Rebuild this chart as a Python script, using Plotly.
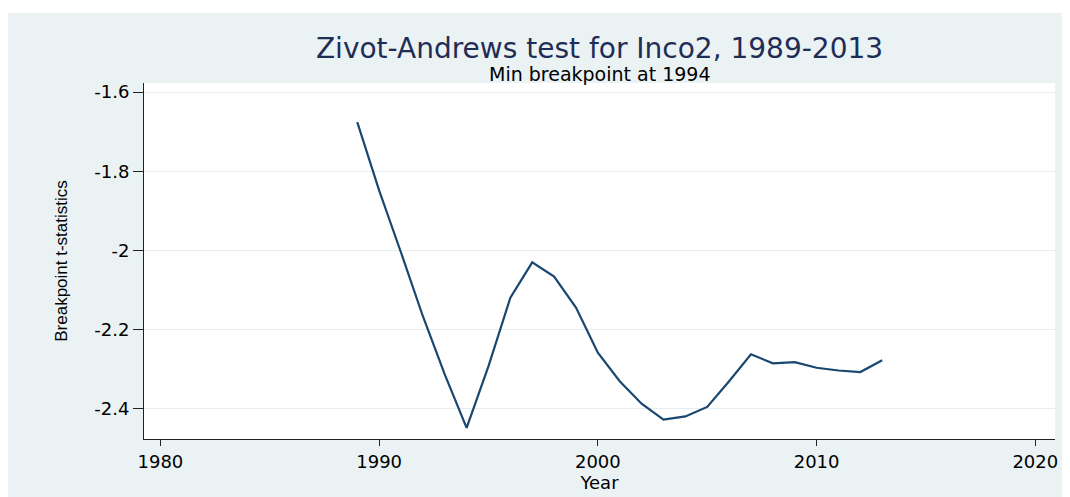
import plotly.graph_objects as go

years = list(range(1989, 2014))
tstats = [-1.676, -1.848, -2.005, -2.166, -2.313, -2.448, -2.292, -2.119,
          -2.030, -2.066, -2.144, -2.258, -2.330, -2.387, -2.427, -2.419,
          -2.395, -2.330, -2.262, -2.285, -2.282, -2.296, -2.303, -2.307, -2.277]

x_ticks = [1980, 1990, 2000, 2010, 2020]
y_ticks = [-2.4, -2.2, -2.0, -1.8, -1.6]
y_tick_text = ["-2.4", "-2.2", "-2", "-1.8", "-1.6"]

title_text = "Zivot-Andrews test for Inco2, 1989-2013"
subtitle_text = "Min breakpoint at 1994"

BG = "#EAF2F3"
FONT = "DejaVu Sans"

# page body has an 8px margin; figure is sized so it ends at the window edge
W, H = 1062, 489

fig = go.Figure()
fig.add_trace(go.Scatter(x=years, y=tstats, mode="lines",
                         line=dict(color="#1a476f", width=2.2),
                         showlegend=False, hoverinfo="x+y"))

fig.update_layout(
    width=W, height=H,
    margin=dict(l=136, r=15, t=75, b=58),
    paper_bgcolor=BG, plot_bgcolor="white",
    title=dict(text=title_text, x=0.5, xref="paper", xanchor="center",
               y=1 - 40 / H, yref="container", yanchor="middle",
               font=dict(family=FONT, size=28, color="#1f2d56")),
    xaxis=dict(range=[1979.25, 2020.9], tickvals=x_ticks,
               ticks="outside", ticklen=6, tickcolor="#222", tickwidth=1,
               showline=True, linecolor="#222", linewidth=1,
               showgrid=False, zeroline=False,
               tickfont=dict(family=FONT, size=18, color="black"),
               title=dict(text="Year", standoff=2,
                          font=dict(family=FONT, size=18, color="black"))),
    yaxis=dict(range=[-2.476, -1.577], tickvals=y_ticks, ticktext=y_tick_text,
               ticks="outside", ticklen=10, tickcolor="#222", tickwidth=1,
               showline=True, linecolor="#222", linewidth=1,
               showgrid=True, gridcolor="#E4EEF0", gridwidth=1.2,
               zeroline=False,
               tickfont=dict(family=FONT, size=18, color="black"),
               title=dict(text="Breakpoint t-statistics", standoff=22,
                          font=dict(family="Liberation Sans", size=17, color="black"))),
    annotations=[dict(text=subtitle_text, xref="paper", yref="paper",
                      x=0.5, y=(439 - 74) / 356, xanchor="center", yanchor="middle",
                      showarrow=False,
                      font=dict(family=FONT, size=19, color="black"))],
    shapes=[
        dict(type="rect", xref="paper", yref="paper", layer="above",
             x0=-0.2, x1=1.1, y0=(439 - 13) / 356, y1=1.3,
             fillcolor="white", line=dict(width=0)),
        dict(type="rect", xref="paper", yref="paper", layer="above",
             x0=(1067 - 144) / 911, x1=1.1, y0=-0.3, y1=1.3,
             fillcolor="white", line=dict(width=0)),
    ],
)

fig.write_html("out.html")
